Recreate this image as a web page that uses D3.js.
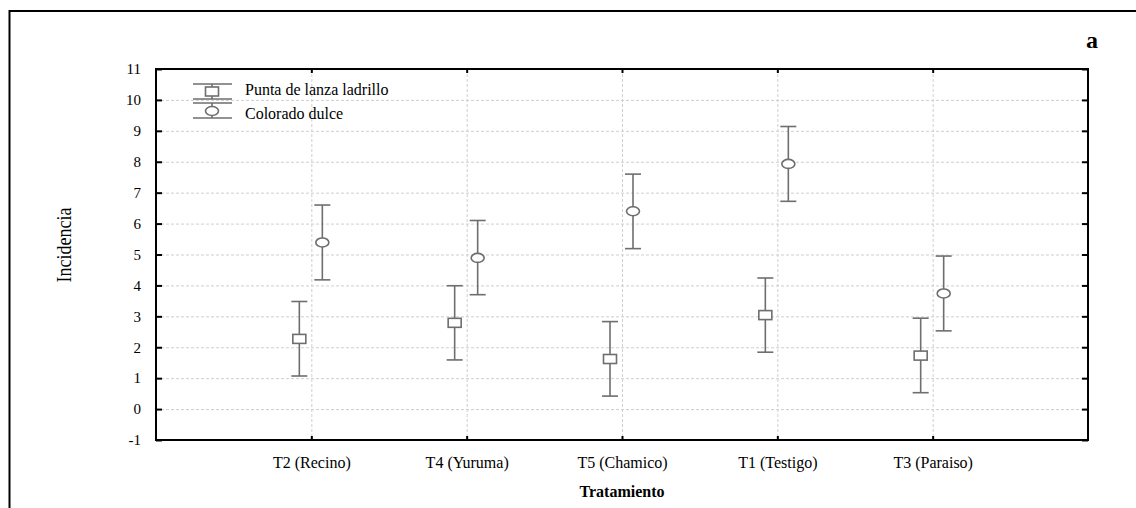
<!DOCTYPE html>
<html>
<head>
<meta charset="utf-8">
<script src="https://cdn.jsdelivr.net/npm/d3@7/dist/d3.min.js"></script>
<style>
  body { margin: 0; background: #fff; }
  svg { display: block; font-family: "Liberation Serif", "Times New Roman", serif; }
</style>
</head>
<body>
<div id="chart"></div>
<script>
// data
var categories = ["T2 (Recino)", "T4 (Yuruma)", "T5 (Chamico)", "T1 (Testigo)", "T3 (Paraiso)"];
var seriesNames = ["Punta de lanza ladrillo", "Colorado dulce"];
var puntaMean = [2.27, 2.79, 1.62, 3.04, 1.73];
var puntaLow  = [1.07, 1.59, 0.42, 1.84, 0.53];
var puntaHigh = [3.48, 3.99, 2.83, 4.24, 2.94];
var coloradoMean = [5.39, 4.89, 6.40, 7.93, 3.74];
var coloradoLow  = [4.18, 3.70, 5.19, 6.72, 2.53];
var coloradoHigh = [6.60, 6.10, 7.60, 9.14, 4.95];
var yTicks = [-1, 0, 1, 2, 3, 4, 5, 6, 7, 8, 9, 10, 11];

var width = 1136, height = 508;
var plotLeft = 156, plotRight = 1088, plotTop = 69, plotBottom = 440;
var markColor = "#6e6e6e";
var gridColor = "#cfcfcf";

var svg = d3.select("#chart").append("svg")
    .attr("width", width)
    .attr("height", height);

// outer frame (runs off the right and bottom of the picture)
svg.append("rect")
    .attr("x", 9.5).attr("y", 11)
    .attr("width", 1300).attr("height", 700)
    .attr("fill", "none").attr("stroke", "#000").attr("stroke-width", 2);

var x = d3.scalePoint().domain(categories).range([plotLeft, plotRight]).padding(1);
var y = d3.scaleLinear().domain([-1, 11]).range([plotBottom, plotTop]);

// grid
svg.append("g").selectAll("line")
    .data(yTicks.slice(1, -1))
    .enter().append("line")
    .attr("x1", plotLeft).attr("x2", plotRight)
    .attr("y1", function (d) { return y(d) + 0.5; })
    .attr("y2", function (d) { return y(d) + 0.5; })
    .attr("stroke", gridColor).attr("stroke-dasharray", "3,2");

svg.append("g").selectAll("line")
    .data(categories)
    .enter().append("line")
    .attr("x1", function (d) { return x(d) + 0.5; })
    .attr("x2", function (d) { return x(d) + 0.5; })
    .attr("y1", plotTop).attr("y2", plotBottom)
    .attr("stroke", gridColor).attr("stroke-dasharray", "3,2");

// axes
var yLeft = d3.axisLeft(y).tickValues(yTicks).tickSize(-6).tickPadding(15).tickFormat(function (d) { return String(d); });
var yRight = d3.axisRight(y).tickValues(yTicks).tickSize(-6).tickFormat("");
var xBottom = d3.axisBottom(x).tickSize(-4).tickPadding(17);
var xTop = d3.axisTop(x).tickSize(-4).tickFormat("");

function styleAxis(g) {
    g.select(".domain").remove();
    g.selectAll(".tick line").attr("stroke", "#000").attr("stroke-width", 2);
    g.selectAll("text").attr("fill", "#000").style("font-family", "Liberation Serif, serif");
}

svg.append("g").attr("transform", "translate(" + plotLeft + ",0)").call(yLeft).call(styleAxis)
    .selectAll("text").style("font-size", "15px");
svg.append("g").attr("transform", "translate(" + plotRight + ",0)").call(yRight).call(styleAxis);
svg.append("g").attr("transform", "translate(0," + plotBottom + ")").call(xBottom).call(styleAxis)
    .selectAll("text").style("font-size", "16px");
svg.append("g").attr("transform", "translate(0," + plotTop + ")").call(xTop).call(styleAxis);

svg.append("rect")
    .attr("x", plotLeft).attr("y", plotTop)
    .attr("width", plotRight - plotLeft).attr("height", plotBottom - plotTop)
    .attr("fill", "none").attr("stroke", "#000").attr("stroke-width", 2);

// error bars
var series = [
    { name: seriesNames[0], mean: puntaMean, low: puntaLow, high: puntaHigh, dx: -12, shape: "square" },
    { name: seriesNames[1], mean: coloradoMean, low: coloradoLow, high: coloradoHigh, dx: 11, shape: "circle" }
];

series.forEach(function (s) {
    var g = svg.append("g").selectAll("g")
        .data(categories)
        .enter().append("g")
        .attr("transform", function (d) { return "translate(" + (x(d) + s.dx) + ",0)"; });

    g.append("line")
        .attr("x1", 0).attr("x2", 0)
        .attr("y1", function (d, i) { return y(s.high[i]); })
        .attr("y2", function (d, i) { return y(s.low[i]); })
        .attr("stroke", markColor).attr("stroke-width", 1.6);
    g.append("line")
        .attr("x1", -8).attr("x2", 8)
        .attr("y1", function (d, i) { return y(s.high[i]); })
        .attr("y2", function (d, i) { return y(s.high[i]); })
        .attr("stroke", markColor).attr("stroke-width", 1.6);
    g.append("line")
        .attr("x1", -8).attr("x2", 8)
        .attr("y1", function (d, i) { return y(s.low[i]); })
        .attr("y2", function (d, i) { return y(s.low[i]); })
        .attr("stroke", markColor).attr("stroke-width", 1.6);

    if (s.shape == "square") {
        g.append("rect")
            .attr("x", -6.5)
            .attr("y", function (d, i) { return y(s.mean[i]) - 4.5; })
            .attr("width", 13).attr("height", 9)
            .attr("fill", "#fff").attr("stroke", markColor).attr("stroke-width", 1.6);
    } else {
        g.append("ellipse")
            .attr("cx", 0)
            .attr("cy", function (d, i) { return y(s.mean[i]); })
            .attr("rx", 6.5).attr("ry", 4.5)
            .attr("fill", "#fff").attr("stroke", markColor).attr("stroke-width", 1.6);
    }
});

// legend
var legend = svg.append("g").attr("transform", "translate(212,0)");
// item 1
legend.append("line").attr("x1", -19).attr("x2", 20).attr("y1", 84).attr("y2", 84).attr("stroke", markColor).attr("stroke-width", 1.6);
legend.append("line").attr("x1", 0).attr("x2", 0).attr("y1", 84).attr("y2", 99).attr("stroke", markColor).attr("stroke-width", 1.6);
legend.append("line").attr("x1", -19).attr("x2", 20).attr("y1", 99).attr("y2", 99).attr("stroke", markColor).attr("stroke-width", 1.6);
legend.append("rect").attr("x", -6.5).attr("y", 87).attr("width", 13).attr("height", 9)
    .attr("fill", "#fff").attr("stroke", markColor).attr("stroke-width", 1.6);
// item 2
legend.append("line").attr("x1", -19).attr("x2", 20).attr("y1", 103).attr("y2", 103).attr("stroke", markColor).attr("stroke-width", 1.6);
legend.append("line").attr("x1", 0).attr("x2", 0).attr("y1", 103).attr("y2", 118).attr("stroke", markColor).attr("stroke-width", 1.6);
legend.append("line").attr("x1", -19).attr("x2", 20).attr("y1", 118).attr("y2", 118).attr("stroke", markColor).attr("stroke-width", 1.6);
legend.append("ellipse").attr("cx", 0).attr("cy", 111).attr("rx", 6.5).attr("ry", 4.5)
    .attr("fill", "#fff").attr("stroke", markColor).attr("stroke-width", 1.6);

legend.selectAll("text.lbl")
    .data(seriesNames)
    .enter().append("text")
    .attr("class", "lbl")
    .attr("x", 33)
    .attr("y", function (d, i) { return 89 + i * 24; })
    .attr("dy", "0.35em")
    .style("font-size", "16px")
    .text(function (d) { return d; });

// titles (the y label is a little narrow and tall in the original)
svg.append("text")
    .attr("transform", "translate(63,245) rotate(-90) scale(0.82,1)")
    .attr("text-anchor", "middle")
    .attr("dy", "0.35em")
    .style("font-size", "22px")
    .text("Incidencia");

svg.append("text")
    .attr("x", (plotLeft + plotRight) / 2)
    .attr("y", 497)
    .attr("text-anchor", "middle")
    .style("font-size", "16px")
    .style("font-weight", "bold")
    .text("Tratamiento");

svg.append("text")
    .attr("x", 1092)
    .attr("y", 48)
    .attr("text-anchor", "middle")
    .style("font-size", "24px")
    .style("font-weight", "bold")
    .text("a");
</script>
</body>
</html>
